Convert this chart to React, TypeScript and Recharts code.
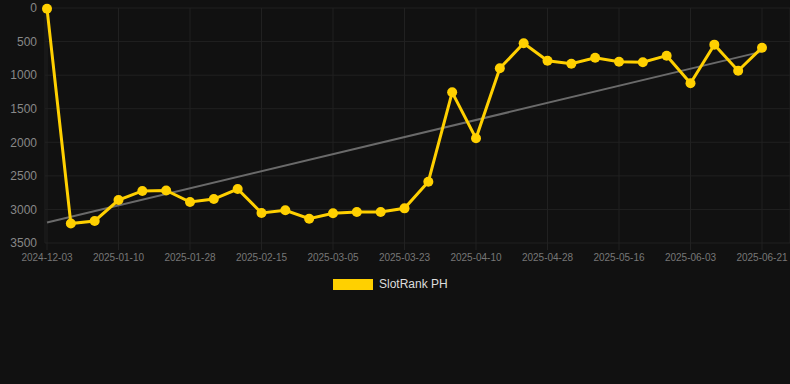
import React from "react";
import { LineChart, Line, XAxis, YAxis, CartesianGrid } from "recharts";

const dates = [
  "2024-12-03", "2024-12-29", "2025-01-04", "2025-01-10", "2025-01-16", "2025-01-22",
  "2025-01-28", "2025-02-03", "2025-02-09", "2025-02-15", "2025-02-21", "2025-02-27",
  "2025-03-05", "2025-03-11", "2025-03-17", "2025-03-23", "2025-03-29", "2025-04-04",
  "2025-04-10", "2025-04-16", "2025-04-22", "2025-04-28", "2025-05-04", "2025-05-10",
  "2025-05-16", "2025-05-22", "2025-05-28", "2025-06-03", "2025-06-09", "2025-06-15",
  "2025-06-21",
];

const ranks = [
  10, 3210, 3172, 2860, 2725, 2718,
  2890, 2845, 2696, 3053, 3013, 3138,
  3058, 3038, 3038, 2984, 2587, 1256,
  1941, 898, 526, 785, 830, 740,
  800, 809, 710, 1122, 546, 934,
  591,
];

const trendStart = 3195;
const trendEnd = 650;

const yTicks = [0, 500, 1000, 1500, 2000, 2500, 3000, 3500];

const seriesName = "SlotRank PH";
const yellow = "#FFD000";

const data = dates.map((d, i) => ({
  date: d,
  rank: ranks[i],
  trend: i === 0 ? trendStart : i === dates.length - 1 ? trendEnd : null,
}));

const font = '"Liberation Sans", Arial, sans-serif';

export default function App() {
  return (
    <div style={{ position: "fixed", left: 0, top: 0, width: 790, height: 384, background: "#111111" }}>
      <LineChart width={790} height={384} data={data} margin={{ top: 8, right: 0, bottom: 111, left: 0 }}>
        <CartesianGrid stroke="#212121" strokeWidth={1} />
        <XAxis
          dataKey="date"
          interval={2}
          padding={{ left: 2, right: 28 }}
          axisLine={false}
          tickLine={{ stroke: "#212121" }}
          tickSize={7}
          tickMargin={4}
          tick={{ fill: "#777777", fontSize: 10, fontFamily: font }}
          height={30}
        />
        <YAxis
          domain={[0, 3500]}
          ticks={yTicks}
          reversed
          width={45}
          axisLine={false}
          tickLine={false}
          tickSize={0}
          tickMargin={8}
          tick={{ fill: "#888888", fontSize: 12, fontFamily: font }}
        />
        <Line
          dataKey="trend"
          stroke="#6a6a6a"
          strokeWidth={2}
          dot={false}
          connectNulls
          isAnimationActive={false}
          legendType="none"
        />
        <Line
          dataKey="rank"
          name={seriesName}
          stroke={yellow}
          strokeWidth={3}
          dot={{ r: 5, fill: yellow, stroke: yellow, strokeWidth: 0 }}
          activeDot={false}
          isAnimationActive={false}
        />
      </LineChart>
      <div
        style={{
          position: "absolute",
          left: 333,
          top: 278,
          display: "flex",
          alignItems: "center",
          fontFamily: font,
        }}
      >
        <div style={{ width: 40, height: 11, background: yellow, marginRight: 6 }} />
        <span style={{ color: "#dddddd", fontSize: 12, lineHeight: "12px" }}>{seriesName}</span>
      </div>
    </div>
  );
}
